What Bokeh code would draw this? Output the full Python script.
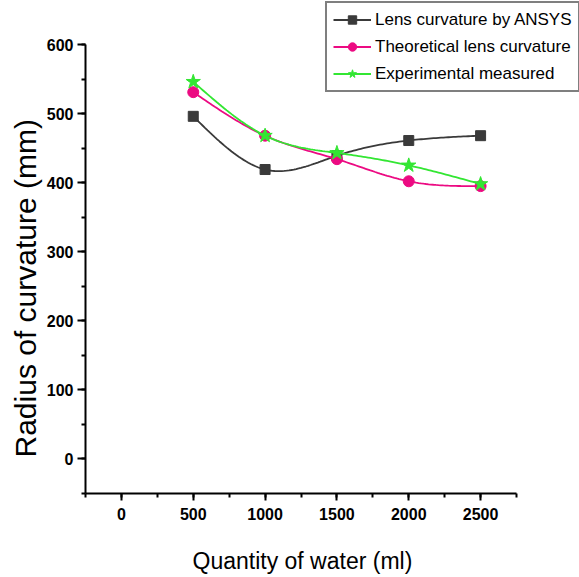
import numpy as np
from bokeh.plotting import figure
from bokeh.models import Legend, LegendItem, SingleIntervalTicker, Range1d, Title
from bokeh.embed import file_html
from bokeh.resources import INLINE

# ---- data ----
water_ml = [500, 1000, 1500, 2000, 2500]
ansys_mm = [496, 419, 439, 461, 468]
theoretical_mm = [531, 468, 434, 402, 395]
experimental_mm = [546, 468, 443, 425, 398]

series_names = ["Lens curvature by ANSYS", "Theoretical lens curvature", "Experimental measured"]
x_label = "Quantity of water (ml)"
y_label = "Radius of curvature (mm)"
x_tick_interval = 500
y_tick_interval = 100
x_axis_bounds = (-250, 2750)
y_axis_bounds = (-50, 600)

# ---- layout geometry (pixels) ----
W, H = 579, 577
frame_left, frame_bottom_border = 85, 84
axis_px_w, axis_px_h = 431, 449   # pixel length of the drawn axes


def natural_spline(x, y, n=30):
    x = np.asarray(x, float)
    y = np.asarray(y, float)
    k = len(x)
    h = np.diff(x)
    A = np.zeros((k, k))
    b = np.zeros(k)
    A[0, 0] = 1
    A[-1, -1] = 1
    for i in range(1, k - 1):
        A[i, i - 1] = h[i - 1]
        A[i, i] = 2 * (h[i - 1] + h[i])
        A[i, i + 1] = h[i]
        b[i] = 6 * ((y[i + 1] - y[i]) / h[i] - (y[i] - y[i - 1]) / h[i - 1])
    M = np.linalg.solve(A, b)
    xs, ys = [], []
    for i in range(k - 1):
        t = np.linspace(x[i], x[i + 1], n, endpoint=(i == k - 2))
        a = x[i + 1] - t
        c = t - x[i]
        s = (M[i] * a ** 3 + M[i + 1] * c ** 3) / (6 * h[i]) \
            + (y[i] / h[i] - M[i] * h[i] / 6) * a \
            + (y[i + 1] / h[i] - M[i + 1] * h[i] / 6) * c
        xs.extend(t)
        ys.extend(s)
    return xs, ys


frame_w = W - frame_left
frame_h = H - frame_bottom_border
x_end = x_axis_bounds[0] + frame_w * (x_axis_bounds[1] - x_axis_bounds[0]) / axis_px_w
y_end = y_axis_bounds[0] + frame_h * (y_axis_bounds[1] - y_axis_bounds[0]) / axis_px_h

p = figure(width=W, height=H, output_backend="svg", toolbar_location=None,
           x_range=Range1d(x_axis_bounds[0], x_end), y_range=Range1d(y_axis_bounds[0], y_end),
           min_border_left=frame_left, min_border_right=0, min_border_top=0,
           min_border_bottom=frame_bottom_border)
p.outline_line_color = None
p.xgrid.visible = False
p.ygrid.visible = False
p.background_fill_color = "white"
p.border_fill_color = "white"

colors = ["#3a3a3a", "#ec0a82", "#33e633"]
markers = ["square", "circle", "star"]
sizes = [10, 11, 15]
items = []
for vals, col, mk, sz, name in zip([ansys_mm, theoretical_mm, experimental_mm], colors, markers, sizes, series_names):
    sx, sy = natural_spline(water_ml, vals)
    lr = p.line(sx, sy, line_color=col, line_width=1.8)
    sr = p.scatter(water_ml, vals, marker=mk, size=sz, fill_color=col, line_color=col)
    items.append(LegendItem(label=name, renderers=[lr, sr]))

legend = Legend(items=items, location=(240, 401), border_line_color="black", border_line_width=2,
                padding=6, spacing=6, label_height=21, glyph_width=38, glyph_height=21,
                label_standoff=4, margin=0,
                label_text_font="Liberation Sans", label_text_font_size="17px",
                label_text_color="black", background_fill_alpha=1.0)
p.add_layout(legend, "center")

for ax in (p.xaxis[0], p.yaxis[0]):
    ax.axis_line_width = 2
    ax.axis_line_color = "black"
    ax.major_tick_line_width = 2
    ax.minor_tick_line_width = 2
    ax.major_tick_in = 0
    ax.minor_tick_in = 0
    ax.minor_tick_out = 4
    ax.major_label_text_font = "Liberation Sans"
    ax.major_label_text_font_style = "bold"
    ax.major_label_text_font_size = "16px"
    ax.major_label_text_color = "black"

p.xaxis.bounds = x_axis_bounds
p.yaxis.bounds = y_axis_bounds
p.xaxis.ticker = SingleIntervalTicker(interval=x_tick_interval, num_minor_ticks=2)
p.yaxis.ticker = SingleIntervalTicker(interval=y_tick_interval, num_minor_ticks=2)
p.xaxis.major_tick_out = 7
p.yaxis.major_tick_out = 8
p.xaxis.major_label_standoff = 7
p.yaxis.major_label_standoff = 4

# axis titles placed along the drawn axis extents
xt = Title(text=x_label, align="left", offset=107, standoff=8,
           padding=dict(left=0, right=0, top=19, bottom=0),
           text_font="Liberation Sans", text_font_size="23px", text_font_style="normal",
           text_color="black")
p.add_layout(xt, "below")
yt = Title(text=y_label, align="left", offset=36, standoff=4,
           text_font="Liberation Sans", text_font_size="30px", text_font_style="normal",
           text_color="black")
p.add_layout(yt, "left")

open("out.html", "w").write(file_html(p, INLINE))
